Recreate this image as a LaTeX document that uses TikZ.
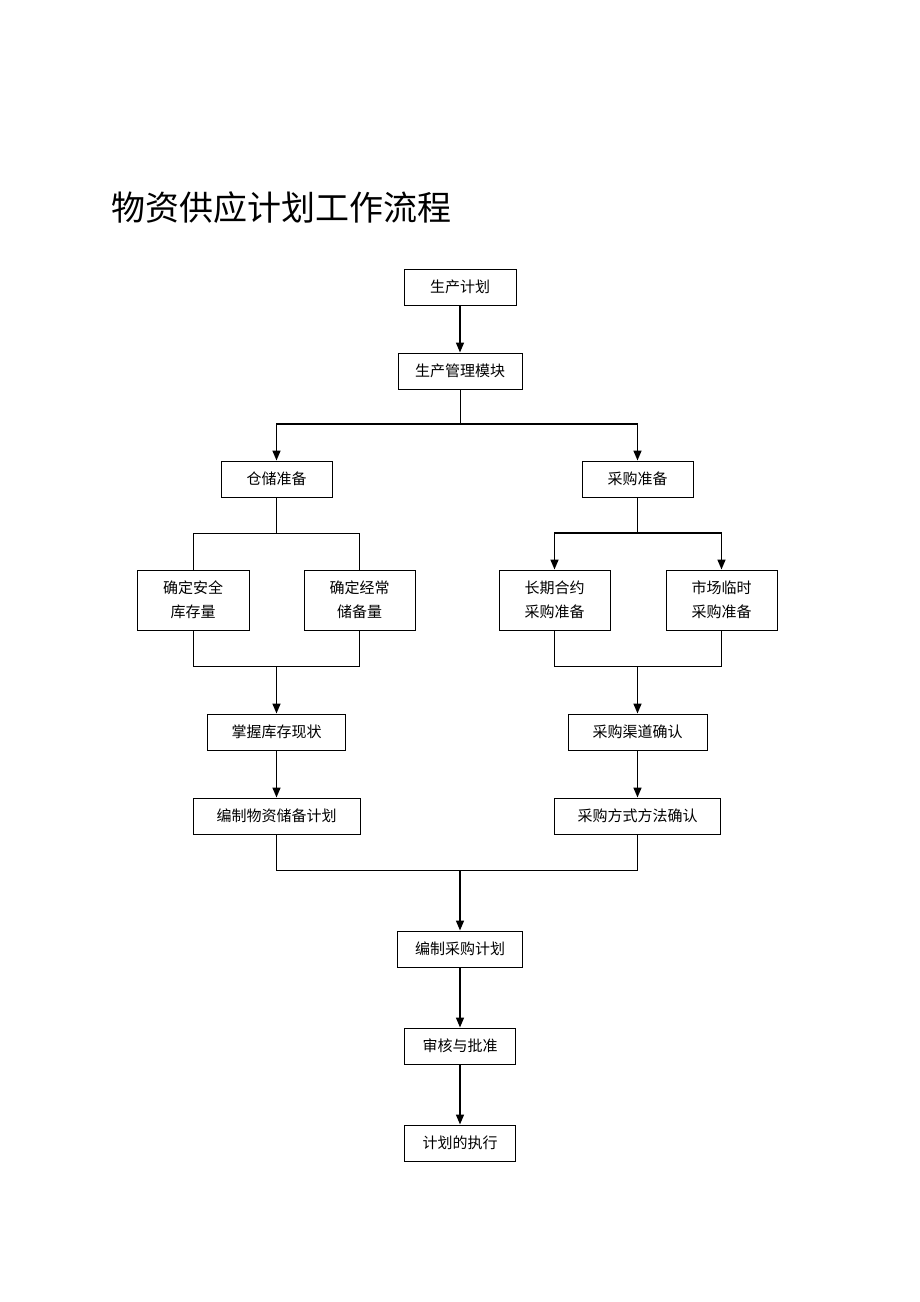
\documentclass[tikz,border=0pt]{standalone}
\usepackage{fontspec}
\setmainfont{Noto Sans CJK SC}
\usetikzlibrary{arrows.meta,positioning}

\begin{document}
\begin{tikzpicture}[x=1pt, y=-1pt,
  every node/.style={font=\fontsize{15}{24}\selectfont},
  box/.style={draw, line width=1pt, inner sep=0pt, minimum height=36pt, align=center},
  tallbox/.style={box, minimum height=60pt},
  link/.style={line width=1pt},
  arr/.style={-{Triangle[length=10pt,width=8pt]}, line width=1.5pt}]
  \useasboundingbox (0,0) rectangle (920,1302);
  \node[anchor=west, font=\fontsize{34}{34}\selectfont] (title) at (108,208) {物资供应计划工作流程};
  % top
  \node[box, minimum width=112pt] (scjh) at (460,287) {生产计划};
  \node[box, minimum width=124pt] (glmk) at (460,371) {生产管理模块};
  \node[box, minimum width=111pt] (ccbz) at (276.5,479) {仓储准备};
  \node[box, minimum width=111pt] (cgbz) at (637.5,479) {采购准备};
  % second level
  \node[tallbox, minimum width=112pt] (aqkc) at (193,600) {确定安全\\库存量};
  \node[tallbox, minimum width=111pt] (jcch) at (359.5,600) {确定经常\\储备量};
  \node[tallbox, minimum width=111pt] (cqhy) at (554.5,600) {长期合约\\采购准备};
  \node[tallbox, minimum width=111pt] (sclc) at (721.5,600) {市场临时\\采购准备};
  \node[box, minimum width=138pt] (zwkc) at (276.5,732) {掌握库存现状};
  \node[box, minimum width=139pt] (qdqr) at (637.5,732) {采购渠道确认};
  \node[box, minimum width=167pt] (cbjh) at (276.5,816) {编制物资储备计划};
  \node[box, minimum width=166pt] (fsqr) at (637.5,816) {采购方式方法确认};
  % bottom
  \node[box, minimum width=125pt] (cgjh) at (460,949) {编制采购计划};
  \node[box, minimum width=111pt] (shpz) at (460,1046) {审核与批准};
  \node[box, minimum width=111pt] (zx) at (460,1143) {计划的执行};
  % forks and joins
  \coordinate (fork1) at (460,424);
  \coordinate (fork2) at (276.5,533);
  \coordinate (fork3) at (637.5,533);
  \coordinate (join1) at (276.5,666);
  \coordinate (join2) at (637.5,666);
  \coordinate (join3) at (460,870);
  % Arrows
  \draw[arr] (scjh) -- (glmk);
  \draw[link] (glmk) -- (fork1);
  \draw[arr] (fork1) -| (ccbz);
  \draw[arr] (fork1) -| (cgbz);
  \draw[link] (ccbz) -- (fork2);
  \draw[link] (fork2) -| (aqkc);
  \draw[link] (fork2) -| (jcch);
  \draw[link] (cgbz) -- (fork3);
  \draw[arr] (fork3) -| (cqhy);
  \draw[arr] (fork3) -| (sclc);
  \draw[link] (aqkc) |- (join1);
  \draw[link] (jcch) |- (join1);
  \draw[link] (cqhy) |- (join2);
  \draw[link] (sclc) |- (join2);
  \draw[arr] (join1) -- (zwkc);
  \draw[arr] (join2) -- (qdqr);
  \draw[arr] (zwkc) -- (cbjh);
  \draw[arr] (qdqr) -- (fsqr);
  \draw[link] (cbjh) |- (join3);
  \draw[link] (fsqr) |- (join3);
  \draw[arr] (join3) -- (cgjh);
  \draw[arr] (cgjh) -- (shpz);
  \draw[arr] (shpz) -- (zx);
\end{tikzpicture}
\end{document}
